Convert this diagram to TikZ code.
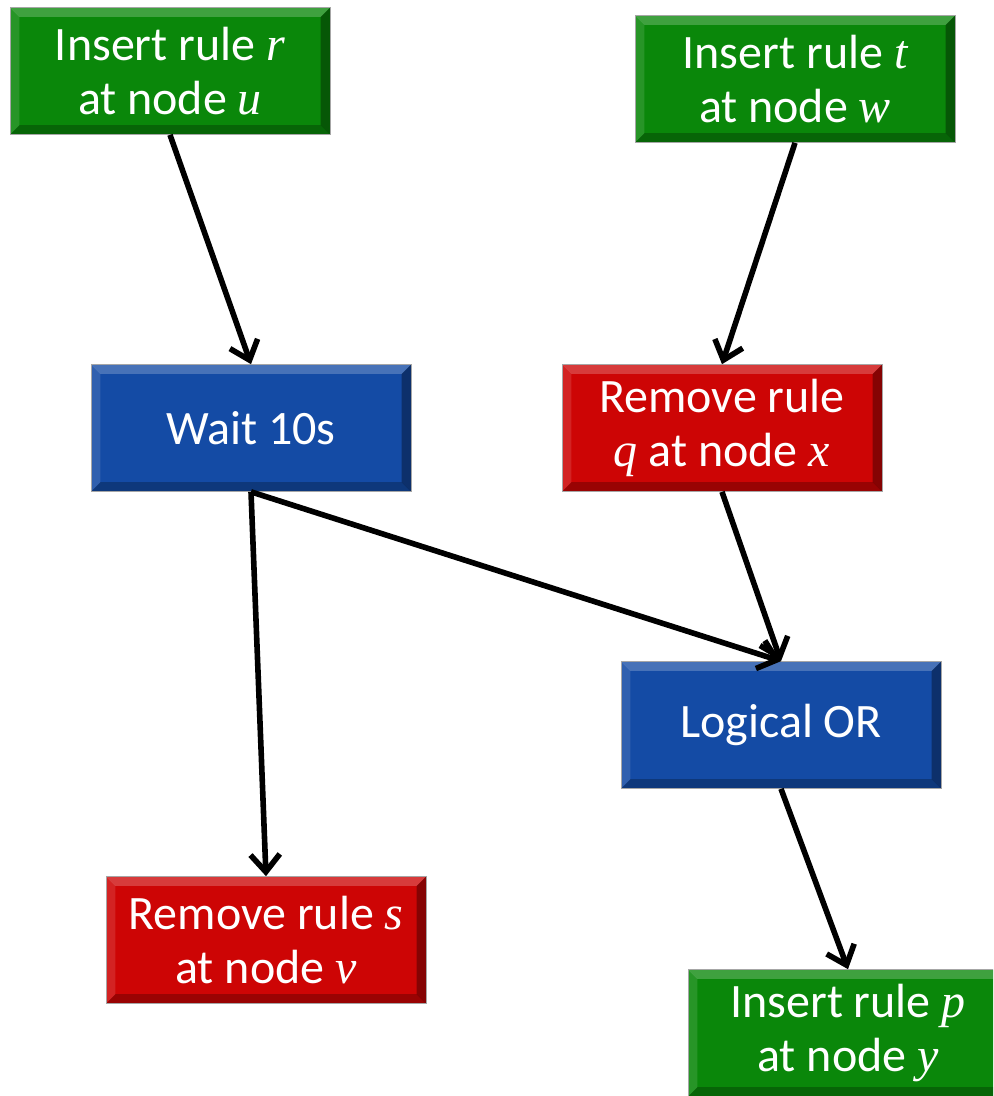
\documentclass[tikz,border=0pt]{standalone}
\usepackage{fontspec}
\setmainfont{Carlito}
\newfontfamily\mathletterfont{Liberation Serif}
\newcommand{\ml}[1]{{\mathletterfont\itshape #1}}
\usetikzlibrary{arrows.meta}
\definecolor{boxgreen}{RGB}{10,135,10}
\definecolor{boxblue}{RGB}{20,75,165}
\definecolor{boxred}{RGB}{205,5,5}
\tikzset{
  px/.style={x=0.75pt,y=-0.75pt},
  flowbox/.style={rectangle, minimum width=240pt, minimum height=95.25pt,
    inner sep=0pt, text=white, align=center,
    font=\fontsize{36}{40}\selectfont,
    draw=black!35, line width=0.5pt,
    path picture={
      \coordinate (nw) at (path picture bounding box.north west);
      \coordinate (ne) at (path picture bounding box.north east);
      \coordinate (sw) at (path picture bounding box.south west);
      \coordinate (se) at (path picture bounding box.south east);
      \fill[white,opacity=0.22] (nw) -- (ne) -- ([shift={(-7pt,-7pt)}]ne) -- ([shift={(7pt,-7pt)}]nw) -- cycle;
      \fill[white,opacity=0.12] (nw) -- ([shift={(7pt,-7pt)}]nw) -- ([shift={(7pt,7pt)}]sw) -- (sw) -- cycle;
      \fill[black,opacity=0.25] (sw) -- (se) -- ([shift={(-7pt,7pt)}]se) -- ([shift={(7pt,7pt)}]sw) -- cycle;
      \fill[black,opacity=0.35] (ne) -- ([shift={(-7pt,-7pt)}]ne) -- ([shift={(-7pt,7pt)}]se) -- (se) -- cycle;
    }},
  greenbox/.style={flowbox, fill=boxgreen},
  bluebox/.style={flowbox, fill=boxblue},
  redbox/.style={flowbox, fill=boxred},
  link/.style={line width=4.2pt, -{Straight Barb[length=13pt,width=22pt,line width=4.2pt]}}
}
\begin{document}
\begin{tikzpicture}[px]
\useasboundingbox (0,0) rectangle (993,1096);
\clip (0,0) rectangle (993,1096);
\node[greenbox] (A) at (170,71) {Insert rule \ml{r}\\at node \ml{u}};
\node[greenbox] (B) at (795,79) {Insert rule \ml{t}\\at node \ml{w}};
\node[bluebox] (C) at (251,428) {Wait 10s};
\node[redbox] (D) at (722,428) {Remove rule\\\ml{q} at node \ml{x}};
\node[bluebox] (E) at (781,725) {Logical OR};
\node[redbox] (F) at (266,940) {Remove rule \ml{s}\\at node \ml{v}};
\node[greenbox] (G) at (848,1033) {Insert rule \ml{p}\\at node \ml{y}};
\draw[link] (A.south) -- (C.north);
\draw[link] (B.south) -- (D.north);
\draw[link] (C.south) -- (F.north);
\draw[link] (C.south) -- (E.north);
\draw[link] (D.south) -- (E.north);
\draw[link] (E.south) -- (G.north);
\end{tikzpicture}
\end{document}
